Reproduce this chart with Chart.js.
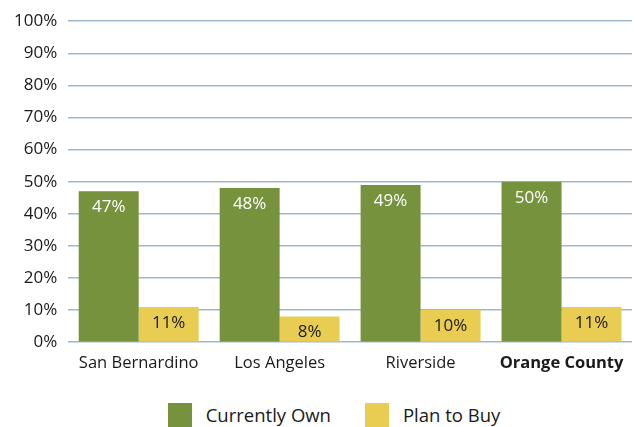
<!DOCTYPE html>
<html>
<head>
<meta charset="utf-8">
<script src="https://cdn.jsdelivr.net/npm/chart.js@4/dist/chart.umd.min.js"></script>
<style>
  html, body { margin: 0; padding: 0; background: #fff; }
  #wrap { width: 634px; height: 427px; }
  #grafico { display: block; }
  #legenda {
    display: flex;
    justify-content: center;
    gap: 34px;
    padding: 27px 0 0 34px;
    font: 18.5px 'Open Sans', 'Noto Sans', sans-serif;
    color: #1a1a1a;
  }
  #legenda .item { display: flex; align-items: center; gap: 14px; line-height: 24px; }
  #legenda .caixa { width: 24px; height: 24px; display: inline-block; }
</style>
</head>
<body>
<div id="wrap">
  <canvas id="grafico" width="634" height="376"></canvas>
  <div id="legenda"></div>
</div>
<script>
// categorias e séries
const regioes = ['San Bernardino', 'Los Angeles', 'Riverside', 'Orange County'];
const possuiAtualmente = [47, 48, 49, 50];
const planejaComprar = [11, 8, 10, 11];
const marcasY = [0, 10, 20, 30, 40, 50, 60, 70, 80, 90, 100];

const VERDE = '#76923c';
const AMARELO = '#e9cc52';
const FONTE = "'Open Sans', 'Noto Sans', sans-serif";

// escreve o valor dentro do topo de cada barra
const rotulosBarras = {
    id: 'rotulosBarras',
    afterDatasetsDraw(chart) {
        const ctx = chart.ctx;
        ctx.save();
        ctx.font = `17px ${FONTE}`;
        ctx.textAlign = 'center';
        ctx.textBaseline = 'middle';
        chart.data.datasets.forEach((ds, i) => {
            const meta = chart.getDatasetMeta(i);
            meta.data.forEach((bar, j) => {
                ctx.fillStyle = i === 0 ? '#ffffff' : '#1a1a1a';
                ctx.fillText(ds.data[j] + '%', bar.x, bar.y + 16);
            });
        });
        ctx.restore();
    }
};

const grafico = new Chart(document.getElementById('grafico'), {
    type: 'bar',
    data: {
        labels: regioes,
        datasets: [
            { label: 'Currently Own', data: possuiAtualmente, backgroundColor: VERDE },
            { label: 'Plan to Buy', data: planejaComprar, backgroundColor: AMARELO }
        ]
    },
    options: {
        responsive: false,
        animation: false,
        layout: { padding: { top: 14, right: 2, left: 3, bottom: 0 } },
        datasets: {
            bar: { categoryPercentage: 0.851, barPercentage: 1 }
        },
        plugins: {
            legend: { display: false },
            tooltip: { enabled: false }
        },
        scales: {
            x: {
                grid: { display: false },
                border: { display: false },
                ticks: {
                    color: '#1a1a1a',
                    padding: 3,
                    font: (c) => ({
                        family: FONTE,
                        size: 16.5,
                        weight: c.index === 3 ? 'bold' : 'normal'
                    })
                }
            },
            y: {
                min: 0,
                max: 100,
                afterBuildTicks: (escala) => {
                    escala.ticks = marcasY.map(v => ({ value: v }));
                },
                grid: { color: '#9fb8cf', lineWidth: 1.5, drawTicks: false },
                border: { display: false },
                ticks: {
                    color: '#1a1a1a',
                    padding: 11,
                    font: { family: FONTE, size: 17 },
                    callback: (v) => v + '%'
                }
            }
        }
    },
    plugins: [rotulosBarras]
});

// legenda em HTML, montada a partir dos datasets
const legenda = document.getElementById('legenda');
grafico.data.datasets.forEach((ds) => {
    const item = document.createElement('span');
    item.className = 'item';
    const caixa = document.createElement('span');
    caixa.className = 'caixa';
    caixa.style.background = ds.backgroundColor;
    item.appendChild(caixa);
    item.appendChild(document.createTextNode(ds.label));
    legenda.appendChild(item);
});
</script>
</body>
</html>
